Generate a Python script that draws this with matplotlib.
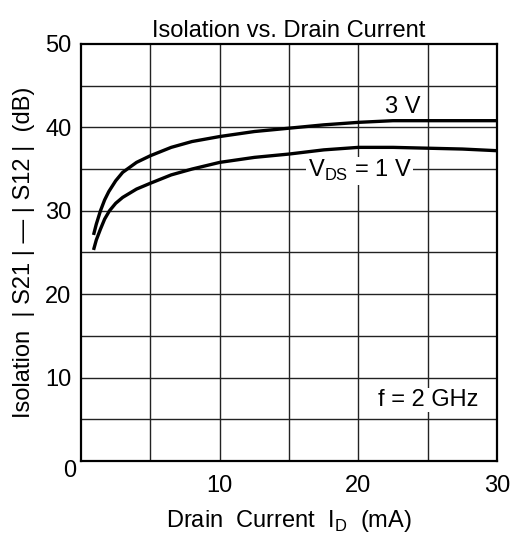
import matplotlib.pyplot as plt

# === Curve data ===
id_3v = [0.9, 1.1, 1.4, 1.7, 2.0, 2.5, 3.0, 3.5, 4.0, 5.0, 6.5, 8.0, 10.0, 12.5, 15.0, 17.5, 20.0, 22.5, 25.0, 27.5, 30.0]
iso_3v = [27.1, 28.4, 30.0, 31.3, 32.3, 33.6, 34.6, 35.2, 35.8, 36.6, 37.6, 38.3, 38.9, 39.5, 39.9, 40.3, 40.6, 40.8, 40.8, 40.8, 40.8]

id_1v = [0.9, 1.1, 1.4, 1.7, 2.05, 2.5, 3.0, 3.5, 4.0, 5.0, 6.5, 8.0, 10.0, 12.5, 15.0, 17.5, 20.0, 22.5, 25.0, 27.5, 30.0]
iso_1v = [25.3, 26.5, 27.8, 29.0, 30.0, 30.9, 31.6, 32.1, 32.6, 33.3, 34.3, 35.0, 35.8, 36.4, 36.8, 37.3, 37.6, 37.6, 37.5, 37.4, 37.2]

x_ticks = [10, 20, 30]
y_ticks = [10, 20, 30, 40, 50]
grid_steps = list(range(0, 51, 5))

plt.rcParams['font.family'] = ['Liberation Sans', 'DejaVu Sans']
FS = 17

fig = plt.figure(figsize=(5.13, 5.36), dpi=100)
ax = fig.add_axes([0.158, 0.140, 0.811, 0.778])

ax.plot(id_3v, iso_3v, 'k-', lw=2.4, solid_capstyle='butt', zorder=3)
ax.plot(id_1v, iso_1v, 'k-', lw=2.4, solid_capstyle='butt', zorder=3)

ax.set_xlim(0, 30)
ax.set_ylim(0, 50)
for g in grid_steps:
    if 0 < g < 30:
        ax.axvline(g, color='#222222', lw=1.0, zorder=1)
    if 0 < g < 50:
        ax.axhline(g, color='#222222', lw=1.0, zorder=1)
ax.set_xticks(x_ticks)
ax.set_yticks(y_ticks)
ax.tick_params(length=0, labelsize=FS)
ax.tick_params(axis='x', pad=10)
ax.tick_params(axis='y', pad=7)
for s in ax.spines.values():
    s.set_linewidth(1.6)

ax.annotate('0', xy=(0, 0), xytext=(-8, -7), textcoords='offset points',
            ha='center', va='center', fontsize=FS)

ax.set_title('Isolation vs. Drain Current', fontsize=FS, pad=5)
ax.set_xlabel('Drain  Current  I$_\\mathregular{D}$  (mA)', fontsize=FS, labelpad=8)
ax.set_ylabel('Isolation  | S21 | — | S12 |  (dB)', fontsize=FS, labelpad=7)

ax.text(23.2, 42.4, '3 V', fontsize=FS, ha='center', va='center')
ax.text(20.1, 34.8, 'V$_\\mathregular{DS}$ = 1 V', fontsize=FS, ha='center', va='center',
        bbox=dict(facecolor='white', edgecolor='none', pad=1), zorder=4)
ax.text(25.0, 7.3, 'f = 2 GHz', fontsize=FS, ha='center', va='center',
        bbox=dict(facecolor='white', edgecolor='none', pad=1), zorder=4)

plt.savefig('out.png', dpi=100)
